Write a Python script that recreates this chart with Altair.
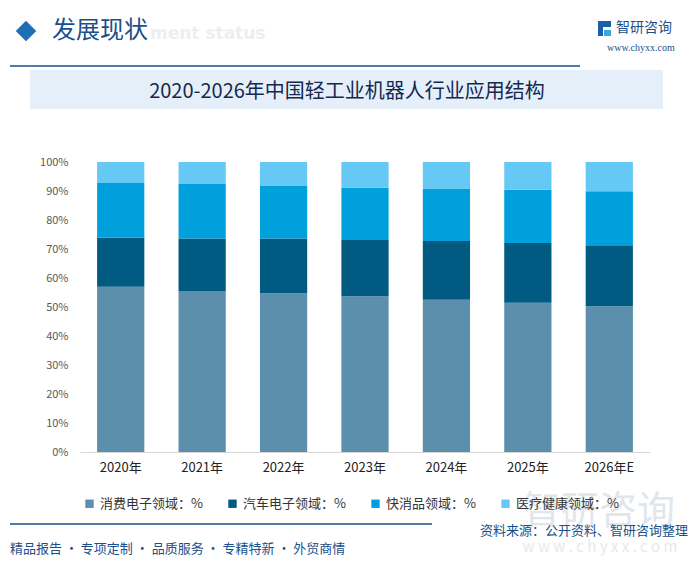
import altair as alt
import pandas as pd

years = ["2020年", "2021年", "2022年", "2023年", "2024年", "2025年", "2026年E"]
cats = ["消费电子领域：%", "汽车电子领域：%", "快消品领域：%", "医疗健康领域：%"]
consumer = [57.0, 55.5, 54.7, 53.7, 52.5, 51.5, 50.3]
auto = [16.9, 18.1, 18.9, 19.4, 20.3, 20.6, 21.0]
fmcg = [18.9, 18.8, 18.1, 18.0, 18.1, 18.3, 18.6]
medical = [7.2, 7.6, 8.3, 8.9, 9.1, 9.6, 10.1]
colors = ["#5b8fab", "#005a82", "#00a0dc", "#66c9f5"]

series = [consumer, auto, fmcg, medical]
rows = []
for ci, (c, vals) in enumerate(zip(cats, series)):
    for y, v in zip(years, vals):
        rows.append({"year": y, "cat": c, "value": v, "idx": ci})
df = pd.DataFrame(rows)

NAVY = "#1b4f8a"
CJK = "Noto Sans CJK SC"

bars = alt.Chart(df).mark_bar().encode(
    x=alt.X("year:N", sort=years, title=None,
            scale=alt.Scale(paddingInner=0.42, paddingOuter=0.21),
            axis=alt.Axis(labelAngle=0, labelFont=CJK, labelFontSize=13, labelColor="#222222",
                          ticks=False, domainColor="#d9d9d9", domainWidth=1, labelPadding=9)),
    y=alt.Y("value:Q", stack="zero", title=None,
            scale=alt.Scale(domain=[0, 100], nice=False),
            axis=alt.Axis(values=list(range(0, 101, 10)), labelExpr="datum.value + '%'",
                          labelFont=CJK, labelFontSize=11, labelColor="#595959",
                          grid=False, domain=False, ticks=False, labelPadding=12)),
    color=alt.Color("cat:N", sort=cats, title=None,
                    scale=alt.Scale(domain=cats, range=colors),
                    legend=alt.Legend(orient="none", legendX=3, legendY=335, direction="horizontal",
                                      columns=4, columnPadding=23, symbolType="square",
                                      symbolSize=70, labelFont=CJK, labelFontSize=13,
                                      labelColor="#333333", symbolStrokeWidth=0)),
    order=alt.Order("idx:Q", sort="ascending"),
)


def txt(t, x, y, size, color, align="left", font=CJK, weight="normal", **kw):
    return alt.Chart(pd.DataFrame({"t": [t]})).mark_text(
        align=align, baseline="middle", fontSize=size, color=color, font=font,
        fontWeight=weight, **kw
    ).encode(x=alt.value(x), y=alt.value(y), text="t:N")


def rect(x, x2, y, y2, color):
    return alt.Chart(pd.DataFrame({"a": [0]})).mark_rect(color=color).encode(
        x=alt.value(x), x2=alt.value(x2), y=alt.value(y), y2=alt.value(y2))


def rule(x, x2, y, color, w):
    return alt.Chart(pd.DataFrame({"a": [0]})).mark_rule(color=color, strokeWidth=w).encode(
        x=alt.value(x), x2=alt.value(x2), y=alt.value(y))


OX, OY = 80, 162  # plot origin on page

layers = [
    # watermark bottom-right
    txt("智研咨询", 523 - OX, 512 - OY, 38, "#e2e6ec"),
    txt("w w w . c h y x x . c o m", 600 - OX, 547 - OY, 15, "#e6e9ee", align="center"),
    # header
    txt("ment status", 150 - OX, 34 - OY, 17, "#eceef2", font="DejaVu Sans", weight="bold"),
    alt.Chart(pd.DataFrame({"a": [0]})).mark_point(shape="diamond", filled=True, size=420,
                                                  color="#1f6eb5", opacity=1).encode(
        x=alt.value(26 - OX), y=alt.value(31 - OY)),
    txt("发展现状", 52 - OX, 31 - OY, 24, NAVY),
    rule(10 - OX, 580 - OX, 66 - OY, NAVY, 1.5),
    rect(598 - OX, 611 - OX, 21 - OY, 27 - OY, "#1b5fa8"),
    rect(598 - OX, 603 - OX, 27 - OY, 36 - OY, "#1b5fa8"),
    rect(604 - OX, 611 - OX, 30 - OY, 36 - OY, "#35a8e0"),
    txt("智研咨询", 616 - OX, 28 - OY, 14, NAVY),
    txt("www.chyxx.com", 607 - OX, 48 - OY, 10, NAVY, font="Liberation Serif"),
    # title band
    rect(30 - OX, 663 - OX, 70 - OY, 109 - OY, "#e4eff9"),
    txt("2020-2026年中国轻工业机器人行业应用结构", 347 - OX, 92 - OY, 20, "#16284f",
        align="center", weight="normal"),
    bars,
    # footer
    rule(10 - OX, 432 - OX, 524 - OY, NAVY, 1.5),
    txt("精品报告 · 专项定制 · 品质服务 · 专精特新 · 外贸商情", 10 - OX, 549 - OY, 13, NAVY),
    txt("资料来源：公开资料、智研咨询整理", 688 - OX, 531 - OY, 13, NAVY, align="right"),
]

chart = alt.layer(*layers).properties(
    width=570, height=290,
    autosize=alt.AutoSizeParams(type="none"),
    padding={"left": 72, "top": 154, "right": 42, "bottom": 104},
    background="white",
).configure_view(stroke=None)

chart.save("out.html", embed_options={"renderer": "svg", "actions": False})
